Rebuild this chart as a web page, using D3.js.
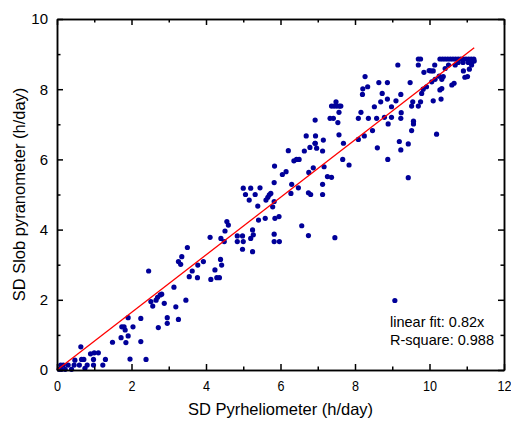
<!DOCTYPE html>
<html lang="en">
    <head>
        <meta charset="utf-8">
        <title>SD Pyrheliometer vs SD Slob pyranometer</title>
        <script src="https://d3js.org/d3.v7.min.js"></script>
        <style type="text/css">
            body { margin: 0; background: white; }
            text { font-family: "Liberation Sans", Arial, sans-serif; fill: black; }
        </style>
    </head>
    <body>
        <svg width="511" height="424"></svg>
        <script type="text/javascript">

            // [SD pyrheliometer, SD slob pyranometer] in h/day
            const points = [
                [0.06,0.02],[0.12,0.02],[0.22,0.02],[0.10,0.14],[0.17,0.14],[0.30,0.14],[0.39,0.02],[0.46,0.14],[0.48,0.28],
                [0.60,0.14],[0.64,0.66],[0.66,0.30],[0.72,0.30],[0.75,0.05],[0.81,0.14],[0.90,0.46],[0.98,0.30],
                [1.00,0.49],[1.11,0.49],[0.98,0.14],[1.23,0.14],[1.30,0.30],[1.49,0.79],[1.72,0.92],[1.74,1.23],
                [1.80,1.23],[1.83,1.14],[1.85,0.78],[1.91,0.97],[1.91,1.49],[2.04,1.23],[1.96,0.31],[2.25,0.81],
                [2.25,1.47],[2.39,0.30],[2.52,1.95],[2.57,1.82],[2.66,1.99],[2.70,2.07],[2.77,2.14],[2.81,2.16],
                [2.88,1.90],[2.96,1.49],[2.96,1.33],[2.72,1.21],[3.14,2.36],[3.19,1.80],[3.26,1.44],[3.46,1.99],
                [4.11,3.78],[4.40,3.75],[4.49,3.66],[4.51,3.96],[4.84,3.66],[4.84,3.82],[3.50,3.49],[3.35,3.23],
                [3.26,3.09],[3.32,3.01],[3.93,3.09],[3.78,2.99],[3.63,2.82],[3.55,2.66],[3.77,2.63],[4.24,2.85],
                [4.39,3.15],[4.42,2.99],[4.13,2.58],[4.29,2.63],[4.36,2.63],[2.46,2.82],
                [4.56,4.23],[4.60,4.13],[5.00,5.18],[5.20,5.18],[5.45,5.19],[5.06,5.00],[5.32,5.00],[5.16,4.84],
                [5.39,4.67],[5.61,4.84],[5.66,4.92],[5.70,4.99],[5.74,5.03],[5.83,4.80],[5.79,4.65],[5.41,4.27],
                [5.59,4.32],[5.85,4.32],[5.96,4.37],[5.83,5.34],[5.84,5.81],[6.05,5.57],[6.15,5.65],[6.21,6.25],
                [6.36,5.96],[6.43,6.00],[6.50,6.00],[6.64,6.24],[6.79,6.34],[6.93,6.46],[6.97,6.32],[7.15,6.55],
                [7.13,6.24],[6.88,5.76],[6.76,5.63],[7.17,5.79],[7.26,5.51],[7.13,5.29],[7.13,5.00],[6.75,5.05],
                [6.81,5.00],[6.48,5.19],[6.28,5.03],[6.30,5.29],[6.57,4.11],[6.75,3.83],[5.83,3.87],[5.83,3.66],
                [5.97,3.66],[5.25,3.99],[5.27,3.85],[5.20,3.75],[4.98,3.82],[5.00,3.66],[4.98,3.44],[5.25,3.37],
                [9.15,8.69],[8.27,8.36],[8.34,8.07],[8.21,8.01],[8.20,7.85],[8.64,8.19],[8.87,8.19],[9.48,8.19],
                [8.73,7.88],[8.69,7.64],[8.87,7.72],[9.10,7.67],[9.23,7.85],[8.98,7.50],[9.24,7.33],[9.23,7.17],
                [8.98,7.20],[8.89,7.01],[8.79,7.20],[8.58,7.17],[8.52,7.50],[8.36,7.17],[8.16,7.34],[8.09,7.17],
                [8.47,6.82],[8.25,6.67],[8.09,6.57],[8.60,6.33],[8.88,6.00],[9.19,6.51],[9.23,6.27],[9.43,6.44],
                [9.43,5.48],[7.49,7.64],[7.37,7.52],[7.44,7.52],[7.51,7.52],[7.58,7.52],[7.62,7.52],[7.57,7.34],
                [7.42,7.17],[7.33,7.17],[7.54,7.05],[6.93,7.12],[7.57,6.70],[7.69,6.46],[7.67,6.00],[7.84,5.84],
                [6.69,6.67],[6.94,6.67],[6.93,6.46],[7.37,5.49],
                [9.70,8.86],[9.76,8.86],[9.70,8.69],[9.85,8.48],[9.99,8.53],[9.83,8.00],[9.92,8.07],[9.79,7.88],
                [9.76,7.64],[9.55,7.64],[9.52,7.52],[9.70,7.52],[9.57,7.09],[9.57,7.01],[9.52,6.82],[7.46,3.77],
                [10.28,8.86],[10.35,8.86],[10.42,8.86],[10.49,8.86],[10.56,8.86],[10.63,8.86],[10.70,8.86],
                [10.77,8.86],[10.84,8.86],[10.91,8.86],[10.98,8.86],[11.05,8.86],[11.12,8.86],[11.19,8.86],
                [10.77,8.76],[10.90,8.76],[11.04,8.76],[11.13,8.76],[11.20,8.80],
                [10.51,8.69],[10.69,8.69],[10.14,8.69],[10.04,8.52],[10.10,8.52],[10.42,8.59],[10.91,8.52],
                [11.07,8.57],[11.13,8.69],[10.26,8.37],[10.37,8.36],[10.33,8.28],[10.06,8.21],[10.15,8.28],
                [10.66,8.17],[10.60,8.12],[10.95,8.34],[11.02,8.36],[10.33,8.02],[10.28,7.98],[10.10,7.67],
                [10.31,7.72],[10.19,6.72],
                [9.07,1.98]
            ];

            const xTicks = [0, 2, 4, 6, 8, 10, 12];
            const yTicks = [0, 2, 4, 6, 8, 10];
            const xMinor = [1, 3, 5, 7, 9, 11];
            const yMinor = [1, 3, 5, 7, 9];
            const fitSlope = 0.82;
            const fitRange = [0, 11.2];
            const notes = ["linear fit: 0.82x", "R-square: 0.988"];

            const svg = d3.select("svg");
            const pad = {left: 57, right: 504, top: 19, bottom: 370};

            const x = d3.scaleLinear().domain([0, 12]).range([pad.left, pad.right]);
            const y = d3.scaleLinear().domain([0, 10]).range([pad.bottom, pad.top]);

            // points first, frame on top
            svg.append("g")
               .selectAll("circle")
               .data(points)
               .enter()
               .append("circle")
               .attr("cx", d => x(d[0]))
               .attr("cy", d => y(d[1]))
               .attr("r", 2.6)
               .style("fill", "#000099");

            svg.append("line")
               .attr("x1", x(fitRange[0]))
               .attr("y1", y(fitRange[0] * fitSlope))
               .attr("x2", x(fitRange[1]))
               .attr("y2", y(fitRange[1] * fitSlope))
               .style("stroke", "#ff0000")
               .style("stroke-width", 1.3);

            // axes with inward ticks on all four sides
            const major = 6, minor = 3.5;
            const axes = [
                d3.axisBottom(x).tickValues(xTicks).tickSizeInner(-major).tickSizeOuter(0).tickPadding(major + 4),
                d3.axisTop(x).tickValues(xTicks).tickSizeInner(-major).tickSizeOuter(0).tickFormat(""),
                d3.axisLeft(y).tickValues(yTicks).tickSizeInner(-major).tickSizeOuter(0).tickPadding(major + 3),
                d3.axisRight(y).tickValues(yTicks).tickSizeInner(-major).tickSizeOuter(0).tickFormat("")
            ];
            const minors = [
                d3.axisBottom(x).tickValues(xMinor).tickSizeInner(-minor).tickSizeOuter(0).tickFormat(""),
                d3.axisTop(x).tickValues(xMinor).tickSizeInner(-minor).tickSizeOuter(0).tickFormat(""),
                d3.axisLeft(y).tickValues(yMinor).tickSizeInner(-minor).tickSizeOuter(0).tickFormat(""),
                d3.axisRight(y).tickValues(yMinor).tickSizeInner(-minor).tickSizeOuter(0).tickFormat("")
            ];
            const shifts = [`translate(0,${pad.bottom})`, `translate(0,${pad.top})`,
                            `translate(${pad.left},0)`, `translate(${pad.right},0)`];

            axes.forEach((a, i) => {
                [a, minors[i]].forEach(ax => {
                    const g = svg.append("g").attr("transform", shifts[i]).call(ax);
                    g.selectAll("path, line").style("stroke", "black").style("stroke-width", 1.5);
                    g.selectAll("text")
                     .style("font-family", "'Liberation Sans', Arial, sans-serif")
                     .style("font-size", "15px")
                     .style("fill", "black");
                    // bottom labels are narrower in the original
                    if (i === 0) g.selectAll("text").attr("transform", "scale(0.84,1)");
                });
            });

            svg.append("text")
               .attr("x", (pad.left + pad.right) / 2)
               .attr("y", 415)
               .attr("text-anchor", "middle")
               .style("font-size", "16.5px")
               .text("SD Pyrheliometer (h/day)");

            svg.append("text")
               .attr("transform", `translate(25,${(pad.top + pad.bottom) / 2}) rotate(-90)`)
               .attr("text-anchor", "middle")
               .style("font-size", "16.5px")
               .text("SD Slob pyranometer (h/day)");

            svg.selectAll(".note")
               .data(notes)
               .enter()
               .append("text")
               .attr("class", "note")
               .attr("x", 390)
               .attr("y", (d, i) => 327 + i * 18)
               .style("font-size", "14.5px")
               .text(d => d);

        </script>
    </body>
</html>
